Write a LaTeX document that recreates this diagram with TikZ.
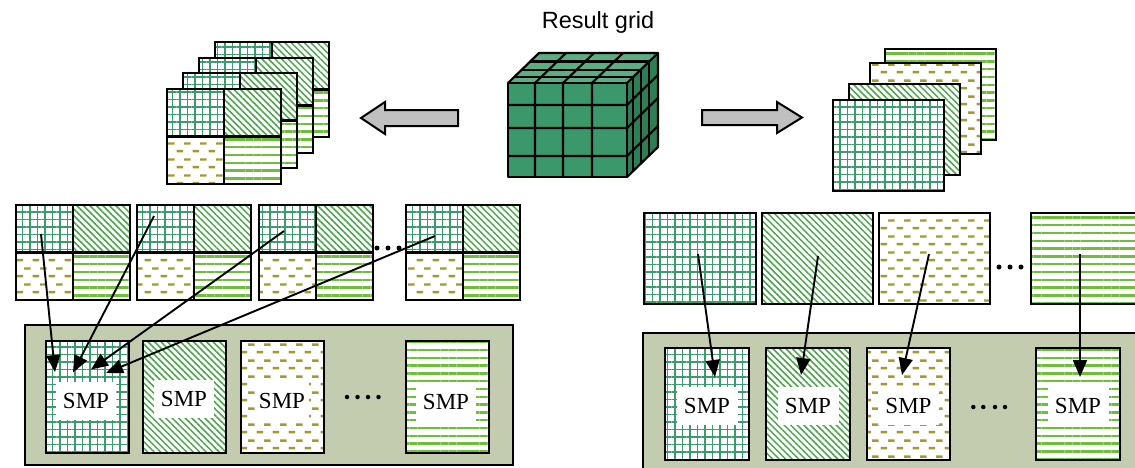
\documentclass[tikz,border=0pt]{standalone}
\usepackage{fontspec}
\setmainfont{Liberation Serif}
\newfontfamily\labelsans{Liberation Sans}
\usetikzlibrary{patterns.meta,arrows.meta}

\definecolor{gridgreen}{RGB}{60,155,110}
\definecolor{diaggreen}{RGB}{75,165,75}
\definecolor{dasholive}{RGB}{160,155,50}
\definecolor{linegreen}{RGB}{110,190,60}
\definecolor{traybg}{RGB}{196,204,176}
\definecolor{arrowgray}{RGB}{192,192,192}
\definecolor{cubefront}{RGB}{58,152,107}
\definecolor{cubetop}{RGB}{92,174,130}
\definecolor{cubeside}{RGB}{45,125,85}

% staggered rows of short olive dashes
\pgfdeclarepattern{
  name=OliveDashes,
  type=uncolored,
  bottom left={\pgfpoint{0pt}{0pt}},
  top right={\pgfpoint{16pt}{15.6pt}},
  tile size={\pgfpoint{16pt}{15.6pt}},
  code={
    \pgfsetlinewidth{2.5pt}
    \pgfpathmoveto{\pgfpoint{0.6pt}{3.9pt}}
    \pgfpathlineto{\pgfpoint{7.4pt}{3.9pt}}
    \pgfpathmoveto{\pgfpoint{8.6pt}{11.7pt}}
    \pgfpathlineto{\pgfpoint{15.4pt}{11.7pt}}
    \pgfusepath{stroke}
  }
}

\tikzset{
  cell/.style={draw=black, line width=2.2pt, inner sep=0pt, outer sep=0pt,
    anchor=north west, preaction={fill=white}},
  gridpat/.style={pattern={Hatch[distance=7.5pt, angle=0, line width=1.9pt]},
    pattern color=gridgreen},
  diagpat/.style={pattern={Lines[distance=4.6pt, angle=-45, line width=1.5pt]},
    pattern color=diaggreen},
  dashpat/.style={pattern=OliveDashes, pattern color=dasholive},
  linepat/.style={pattern={Lines[distance=7.8pt, angle=0, line width=2.3pt]},
    pattern color=linegreen},
  qcell/.style={cell, minimum width=57pt, minimum height=47.5pt},
  bigcell/.style={cell, minimum width=111pt, minimum height=91pt},
  smpcell/.style={cell, minimum width=83pt, minimum height=112pt},
  smplabel/.style={fill=white, inner sep=0pt, minimum width=60pt,
    minimum height=38pt, font=\fontsize{23}{25}\selectfont},
  flow/.style={line width=1.9pt, -{Triangle[length=17pt, width=14pt]}},
  blackdot/.style={circle, fill=black, inner sep=0pt, minimum size=5pt},
  blockarrow/.style={draw=black, line width=2pt, fill=arrowgray, line join=miter},
  cubeline/.style={draw=black, line width=2.2pt, line join=round},
  tray/.style={draw=black, line width=2pt, fill=traybg, inner sep=0pt,
    anchor=north west},
  % a tile split into four differently hatched quarters
  quad/.pic={
    \node[qcell, gridpat] (-g) at (0,0) {};
    \node[qcell, diagpat] (-d) at (57,0) {};
    \node[qcell, dashpat] (-h) at (0,47.5) {};
    \node[qcell, linepat] (-l) at (57,47.5) {};
  }
}

\begin{document}
\begin{tikzpicture}[x=1pt, y=-1pt]
\clip (0,0) rectangle (1135,467);

% title
\node[font=\labelsans\fontsize{23.5}{28}\selectfont, anchor=base, inner sep=0pt]
  (title) at (598,28.3) {Result grid};

% result grid cube
\fill[cubefront] (508,83) rectangle (627,177);
\fill[cubetop] (508,83) -- (539,53) -- (658,53) -- (627,83) -- cycle;
\fill[cubeside] (627,83) -- (658,53) -- (658,147) -- (627,177) -- cycle;
\begin{scope}[cubeline]
  \foreach \x in {535,563,592} {
    \draw (\x,177) -- (\x,83) -- (\x+31,53);
  }
  \foreach \y in {105,128,156} {
    \draw (508,\y) -- (627,\y) -- (658,\y-30);
  }
  \foreach \f in {0.2,0.44,0.72} {
    \draw (508+31*\f,83-30*\f) -- (627+31*\f,83-30*\f) -- (627+31*\f,177-30*\f);
  }
  \draw (508,83) rectangle (627,177);
  \draw (508,83) -- (539,53) -- (658,53) -- (627,83);
  \draw (658,53) -- (658,147) -- (627,177);
\end{scope}

% block arrows
\draw[blockarrow] (458,110) -- (385,110) -- (385,102) -- (361,118) -- (385,134)
  -- (385,126) -- (458,126) -- cycle;
\draw[blockarrow] (702,110) -- (777,110) -- (777,102) -- (802,117.5) -- (777,133)
  -- (777,125) -- (702,125) -- cycle;

% left: stack of quartered tiles
\pic (s4) at (215,42) {quad};
\pic (s3) at (199,58) {quad};
\pic (s2) at (183,73) {quad};
\pic (s1) at (167,89) {quad};

% right: stack of whole tiles
\node[bigcell, linepat] (rs4) at (885,49) {};
\node[bigcell, dashpat] (rs3) at (870,63) {};
\node[bigcell, diagpat] (rs2) at (849,84) {};
\node[bigcell, gridpat] (rs1) at (833,100) {};

% left: row of quartered tiles
\pic (r1) at (16,205) {quad};
\pic (r2) at (137,205) {quad};
\pic (r3) at (259,205) {quad};
\pic (r4) at (406,205) {quad};
\node[blackdot] (ld1) at (377,248) {};
\node[blackdot] (ld2) at (388,248) {};
\node[blackdot] (ld3) at (399,248) {};

% right: row of whole tiles
\node[bigcell, gridpat, minimum width=112pt] (rr1) at (644,213) {};
\node[bigcell, diagpat] (rr2) at (762,213) {};
\node[bigcell, dashpat] (rr3) at (879,213) {};
\node[bigcell, linepat] (rr4) at (1031,213) {};
\node[blackdot] (rd1) at (999,267) {};
\node[blackdot] (rd2) at (1010,267) {};
\node[blackdot] (rd3) at (1021,267) {};

% left SMP tray
\node[tray, minimum width=488pt, minimum height=140pt] (ltray) at (24,324) {};
\node[smpcell, gridpat] (ls1) at (46,341) {};
\node[smpcell, diagpat] (ls2) at (143,341) {};
\node[smpcell, dashpat] (ls3) at (241,341) {};
\node[smpcell, linepat] (ls4) at (406,341) {};
\node[smplabel] (ll1) at (86,401) {SMP};
\node[smplabel] (ll2) at (184,398.5) {SMP};
\node[smplabel, minimum width=54pt] (ll3) at (282,401) {SMP};
\node[smplabel] (ll4) at (446,401.5) {SMP};
\foreach \x [count=\i] in {347,357.5,368,378.5}
  \node[blackdot, minimum size=4.5pt] (lt\i) at (\x,397) {};

% right SMP tray
\node[tray, minimum width=510pt, minimum height=150pt] (rtray) at (642,332) {};
\node[smpcell, gridpat, minimum width=84pt] (rm1) at (665,348) {};
\node[smpcell, diagpat, minimum width=84pt] (rm2) at (766,348) {};
\node[smpcell, dashpat] (rm3) at (867,348) {};
\node[smpcell, linepat, minimum width=84pt] (rm4) at (1036,348) {};
\node[smplabel, minimum width=61pt] (rl1) at (707,405.5) {SMP};
\node[smplabel, minimum width=61pt] (rl2) at (808,405.5) {SMP};
\node[smplabel, minimum width=61pt] (rl3) at (908.5,405.5) {SMP};
\node[smplabel, minimum width=61pt] (rl4) at (1078,405.5) {SMP};
\foreach \x [count=\i] in {973.3,983.3,995,1005}
  \node[blackdot, minimum size=4.5pt] (rt\i) at (\x,407) {};

% data flow: all grid quarters gather onto one SMP
\coordinate (a1) at (41,234);   \coordinate (a1e) at (55,372);
\coordinate (a2) at (154,216);  \coordinate (a2e) at (73,372.5);
\coordinate (a3) at (284,231);  \coordinate (a3e) at (91,369.5);
\coordinate (a4) at (435,236);  \coordinate (a4e) at (106,373);
\draw[flow] (a1) -- (a1e);
\draw[flow] (a2) -- (a2e);
\draw[flow] (a3) -- (a3e);
\draw[flow] (a4) -- (a4e);

% data flow: one whole tile per SMP
\coordinate (b1) at (698,254);  \coordinate (b1e) at (715,377);
\coordinate (b2) at (818,256);  \coordinate (b2e) at (801,375);
\coordinate (b3) at (929,254);  \coordinate (b3e) at (902,375);
\coordinate (b4) at (1080,254); \coordinate (b4e) at (1080,377);
\draw[flow] (b1) -- (b1e);
\draw[flow] (b2) -- (b2e);
\draw[flow] (b3) -- (b3e);
\draw[flow] (b4) -- (b4e);
\end{tikzpicture}
\end{document}
